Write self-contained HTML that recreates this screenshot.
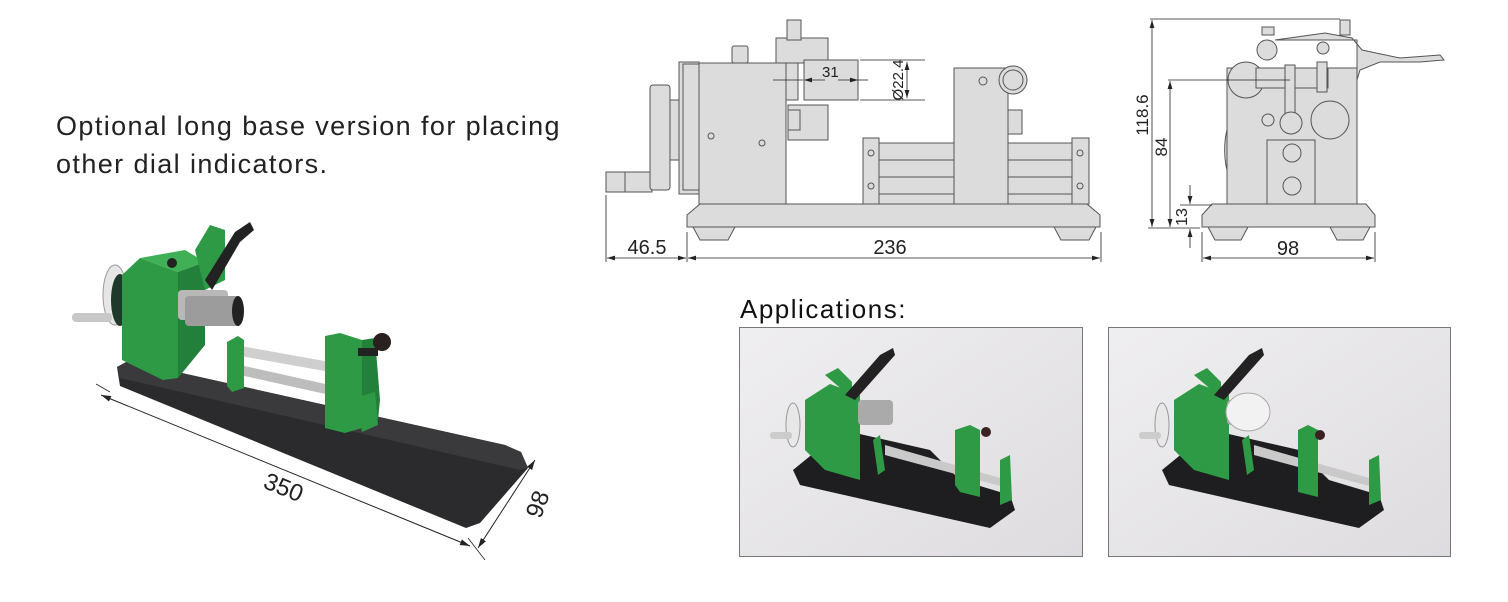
<!DOCTYPE html>
<html><head><meta charset="utf-8"><style>
html,body{margin:0;padding:0;background:#fff;}
svg{display:block;}
text{font-family:"Liberation Sans",sans-serif;}
</style></head><body>
<svg width="1508" height="602" viewBox="0 0 1508 602" xmlns="http://www.w3.org/2000/svg">
<defs>
<marker id="ar" viewBox="0 0 10 6" refX="10" refY="3" markerWidth="10" markerHeight="6" orient="auto-start-reverse"><path d="M0,0L10,3L0,6z" fill="#222"/></marker>
<linearGradient id="bg" x1="0" y1="0" x2="1" y2="1"><stop offset="0" stop-color="#efeef0"/><stop offset="1" stop-color="#dedcdf"/></linearGradient>
</defs>

<text x="56" y="135" font-size="27" fill="#222" letter-spacing="1.4">Optional long base version for placing</text>
<text x="56" y="173" font-size="27" fill="#222" letter-spacing="1.4">other dial indicators.</text>

<g>
<polygon points="117,367 128,361 505,445 521,452 528,468 480,523 466,528 120,386" fill="#2b2a2c"/>
<polygon points="117,367 128,361 505,445 521,452 528,468 520,470 120,378" fill="#3a393b"/>
<ellipse cx="115" cy="295" rx="12" ry="30" fill="#e6e6e6" stroke="#999"/>
<ellipse cx="120" cy="300" rx="9" ry="26" fill="#1f3a2a"/>
<rect x="72" y="313" width="40" height="9" rx="4" fill="#c8c8c8"/>
<polygon points="122,275 140,258 178,272 178,378 163,380 122,360" fill="#2f9a46"/>
<polygon points="140,258 185,250 205,262 178,272" fill="#3fb055"/>
<polygon points="178,272 205,262 205,345 178,378" fill="#22803a"/>
<polygon points="195,250 210,225 225,230 225,280 205,290" fill="#2f9a46"/>
<path d="M205,280 L235,232 L250,222 L254,230 L240,242 L212,290z" fill="#222"/>
<circle cx="172" cy="263" r="5" fill="#222"/>
<rect x="178" y="290" width="50" height="30" rx="4" fill="#b8b8b8"/>
<rect x="185" y="296" width="55" height="30" rx="4" fill="#9c9c9c"/>
<ellipse cx="238" cy="311" rx="6" ry="15" fill="#222"/>
<polygon points="235,345 330,362 330,372 235,355" fill="#cfcfcf"/>
<polygon points="240,365 330,385 330,395 240,375" fill="#bdbdbd"/>
<polygon points="227,342 238,336 244,340 244,388 232,392 227,386" fill="#2f9a46"/>
<polygon points="325,336 340,333 362,340 362,428 345,433 325,428" fill="#2f9a46"/>
<polygon points="362,340 375,338 380,400 378,420 362,428" fill="#22803a"/>
<polygon points="355,398 375,392 378,425 362,432" fill="#2f9a46"/>
<circle cx="382" cy="342" r="9" fill="#2a2020"/>
<rect x="358" y="348" width="20" height="8" fill="#222"/>
<line x1="101" y1="395" x2="470" y2="546" stroke="#222" stroke-width="1" marker-start="url(#ar)" marker-end="url(#ar)"/>
<line x1="96" y1="384" x2="110" y2="392" stroke="#222" stroke-width="0.8"/>
<line x1="478" y1="548" x2="535" y2="460" stroke="#222" stroke-width="1" marker-start="url(#ar)" marker-end="url(#ar)"/>
<line x1="468" y1="538" x2="485" y2="560" stroke="#222" stroke-width="0.8"/>
<text x="265" y="488" font-size="24" fill="#222" transform="rotate(22 265 480)">350</text>
<text x="520" y="520" font-size="24" fill="#222" transform="rotate(-70 530 505)">98</text>
</g>

<g fill="#dcdcdc" stroke="#555" stroke-width="1">
<rect x="606" y="172" width="46" height="20"/>
<line x1="625" y1="172" x2="625" y2="192"/>
<rect x="650" y="85" width="20" height="105" rx="3"/>
<rect x="670" y="100" width="10" height="60"/>
<rect x="679" y="62" width="20" height="132"/>
<rect x="683" y="64" width="16" height="126"/>
<rect x="699" y="63" width="87" height="141"/>
<rect x="732" y="46" width="16" height="17" rx="2"/>
<rect x="776" y="38" width="52" height="25"/>
<rect x="787" y="20" width="14" height="20"/>
<rect x="786" y="63" width="12" height="37"/>
<rect x="804" y="60" width="54" height="40"/>
<rect x="788" y="105" width="40" height="35"/>
<rect x="788" y="110" width="12" height="20"/>
<rect x="954" y="68" width="54" height="136"/>
<circle cx="1013" cy="80" r="14"/><circle cx="1013" cy="80" r="10"/>
<rect x="1008" y="110" width="14" height="24"/>
<rect x="863" y="138" width="16" height="66"/>
<rect x="879" y="143" width="75" height="61"/>
<rect x="1008" y="143" width="64" height="61"/>
<rect x="1072" y="138" width="17" height="66"/>
<line x1="879" y1="160" x2="954" y2="160"/><line x1="879" y1="177" x2="954" y2="177"/><line x1="879" y1="194" x2="954" y2="194"/>
<line x1="1008" y1="160" x2="1072" y2="160"/><line x1="1008" y1="177" x2="1072" y2="177"/><line x1="1008" y1="194" x2="1072" y2="194"/>
<circle cx="711" cy="136" r="3"/><circle cx="762" cy="143" r="3"/>
<circle cx="871" cy="153" r="3"/><circle cx="871" cy="186" r="3"/>
<circle cx="1080" cy="153" r="3"/><circle cx="1080" cy="186" r="3"/>
<circle cx="983" cy="81" r="4"/>
<polygon points="687,215 700,204 1087,204 1100,215 1100,227 687,227"/>
<polygon points="693,227 735,227 728,240 700,240"/>
<polygon points="1054,227 1096,227 1089,240 1061,240"/>
</g>
<g stroke="#222" stroke-width="0.8" fill="none">
<line x1="860" y1="60" x2="925" y2="60"/><line x1="860" y1="100" x2="925" y2="100"/>
<line x1="907" y1="62" x2="907" y2="98" marker-start="url(#ar)" marker-end="url(#ar)"/>
<line x1="773" y1="80" x2="803" y2="80"/>
<line x1="804" y1="80" x2="825" y2="80" marker-start="url(#ar)"/>
<line x1="838" y1="80" x2="858" y2="80" marker-end="url(#ar)"/>
<line x1="858" y1="80" x2="868" y2="80"/>
<line x1="606" y1="195" x2="606" y2="262"/><line x1="687" y1="232" x2="687" y2="262"/><line x1="1101" y1="232" x2="1101" y2="262"/>
<line x1="607" y1="258" x2="686" y2="258" marker-start="url(#ar)" marker-end="url(#ar)"/>
<line x1="688" y1="258" x2="1100" y2="258" marker-start="url(#ar)" marker-end="url(#ar)"/>
</g>
<text x="822" y="77" font-size="15" fill="#222">31</text>
<text x="903" y="80" font-size="15" fill="#222" transform="rotate(-90 903 80)" text-anchor="middle">Ø22.4</text>
<text x="647" y="254" font-size="20" fill="#222" text-anchor="middle">46.5</text>
<text x="890" y="254" font-size="20" fill="#222" text-anchor="middle">236</text>

<g fill="#dcdcdc" stroke="#555" stroke-width="1">
<path d="M1230,120 A40,60 0 0 0 1230,180 Z"/>
<rect x="1227" y="68" width="130" height="136"/>
<path d="M1275,40 L1325,33 L1352,38 L1362,50 L1400,58 L1440,55 L1444,60 L1420,62 L1380,62 L1360,70 L1357,80 L1357,40z"/>
<circle cx="1267" cy="50" r="10"/><rect x="1262" y="27" width="12" height="8"/>
<rect x="1340" y="20" width="10" height="15"/>
<circle cx="1246" cy="80" r="18"/>
<rect x="1256" y="68" width="72" height="20"/>
<rect x="1285" y="65" width="10" height="60"/>
<rect x="1317" y="62" width="10" height="30"/>
<circle cx="1291" cy="123" r="11"/>
<circle cx="1330" cy="120" r="19"/>
<rect x="1267" y="140" width="48" height="64"/>
<circle cx="1292" cy="153" r="9"/><circle cx="1292" cy="186" r="9"/>
<circle cx="1268" cy="120" r="6"/>
<circle cx="1323" cy="48" r="6"/>
<polygon points="1202,215 1212,204 1366,204 1375,215 1375,227 1202,227"/>
<polygon points="1208,227 1248,227 1241,240 1215,240"/>
<polygon points="1330,227 1370,227 1363,240 1337,240"/>
</g>
<g stroke="#222" stroke-width="0.8" fill="none">
<line x1="1150" y1="19" x2="1340" y2="19"/>
<line x1="1168" y1="80" x2="1290" y2="80"/>
<line x1="1148" y1="228" x2="1200" y2="228"/>
<line x1="1180" y1="205" x2="1212" y2="205"/>
<line x1="1152" y1="20" x2="1152" y2="227" marker-start="url(#ar)" marker-end="url(#ar)"/>
<line x1="1170" y1="81" x2="1170" y2="227" marker-start="url(#ar)" marker-end="url(#ar)"/>
<line x1="1190" y1="185" x2="1190" y2="204" marker-end="url(#ar)"/>
<line x1="1190" y1="248" x2="1190" y2="229" marker-end="url(#ar)"/>
<line x1="1202" y1="232" x2="1202" y2="262"/><line x1="1375" y1="232" x2="1375" y2="262"/>
<line x1="1203" y1="258" x2="1374" y2="258" marker-start="url(#ar)" marker-end="url(#ar)"/>
</g>
<text x="1148" y="115" font-size="17" fill="#222" text-anchor="middle" transform="rotate(-90 1148 115)">118.6</text>
<text x="1167" y="147" font-size="17" fill="#222" text-anchor="middle" transform="rotate(-90 1167 147)">84</text>
<text x="1187" y="217" font-size="16" fill="#222" text-anchor="middle" transform="rotate(-90 1187 217)">13</text>
<text x="1288" y="255" font-size="20" fill="#222" text-anchor="middle">98</text>

<text x="740" y="318" font-size="26" fill="#111" letter-spacing="1.5">Applications:</text>

<g>
<rect x="739.5" y="327.5" width="343" height="229" fill="url(#bg)" stroke="#777"/>
<polygon points="793,470 842,430 930,450 960,480 1010,495 1015,510 990,528 800,485" fill="#1e1e20"/>
<ellipse cx="793" cy="425" rx="7" ry="22" fill="#e8e8e8" stroke="#999"/>
<rect x="770" y="432" width="22" height="7" rx="3" fill="#ccc"/>
<polygon points="805,400 830,384 860,395 860,480 825,470 805,450" fill="#2e9a45"/>
<polygon points="825,375 838,368 852,382 852,398" fill="#2e9a45"/>
<rect x="858" y="400" width="35" height="25" rx="4" fill="#aaa"/>
<path d="M845,395 L880,355 L893,348 L895,355 L855,400z" fill="#222"/>
<polygon points="873,440 880,435 885,470 878,475" fill="#2e9a45"/>
<polygon points="885,445 1000,478 1000,486 885,455" fill="#c9c9c9"/>
<polygon points="955,430 970,425 980,430 980,497 960,492 955,485" fill="#2e9a45"/>
<polygon points="1000,460 1010,455 1012,500 1000,505" fill="#2e9a45"/>
<circle cx="986" cy="432" r="5" fill="#3a2222"/>
</g>
<g>
<rect x="1108.5" y="327.5" width="342" height="229" fill="url(#bg)" stroke="#777"/>
<polygon points="1162,470 1211,430 1299,450 1329,480 1379,495 1384,510 1359,528 1169,485" fill="#1e1e20"/>
<ellipse cx="1162" cy="425" rx="7" ry="22" fill="#e8e8e8" stroke="#999"/>
<rect x="1139" y="432" width="22" height="7" rx="3" fill="#ccc"/>
<polygon points="1174,400 1199,384 1229,395 1229,480 1194,470 1174,450" fill="#2e9a45"/>
<polygon points="1194,375 1207,368 1221,382 1221,398" fill="#2e9a45"/>
<rect x="1227" y="400" width="35" height="25" rx="4" fill="#aaa"/>
<path d="M1214,395 L1249,355 L1262,348 L1264,355 L1224,400z" fill="#222"/>
<polygon points="1242,440 1249,435 1254,470 1247,475" fill="#2e9a45"/>
<polygon points="1254,445 1369,478 1369,486 1254,455" fill="#c9c9c9"/>
<polygon points="1298,430 1308,425 1318,430 1318,497 1298,492" fill="#2e9a45"/>
<polygon points="1369,460 1379,455 1381,500 1369,505" fill="#2e9a45"/>
<ellipse cx="1248" cy="412" rx="22" ry="19" fill="#f2f2f2" stroke="#aaa"/>
<circle cx="1320" cy="435" r="5" fill="#3a2222"/>
</g>
</svg>
</body></html>
